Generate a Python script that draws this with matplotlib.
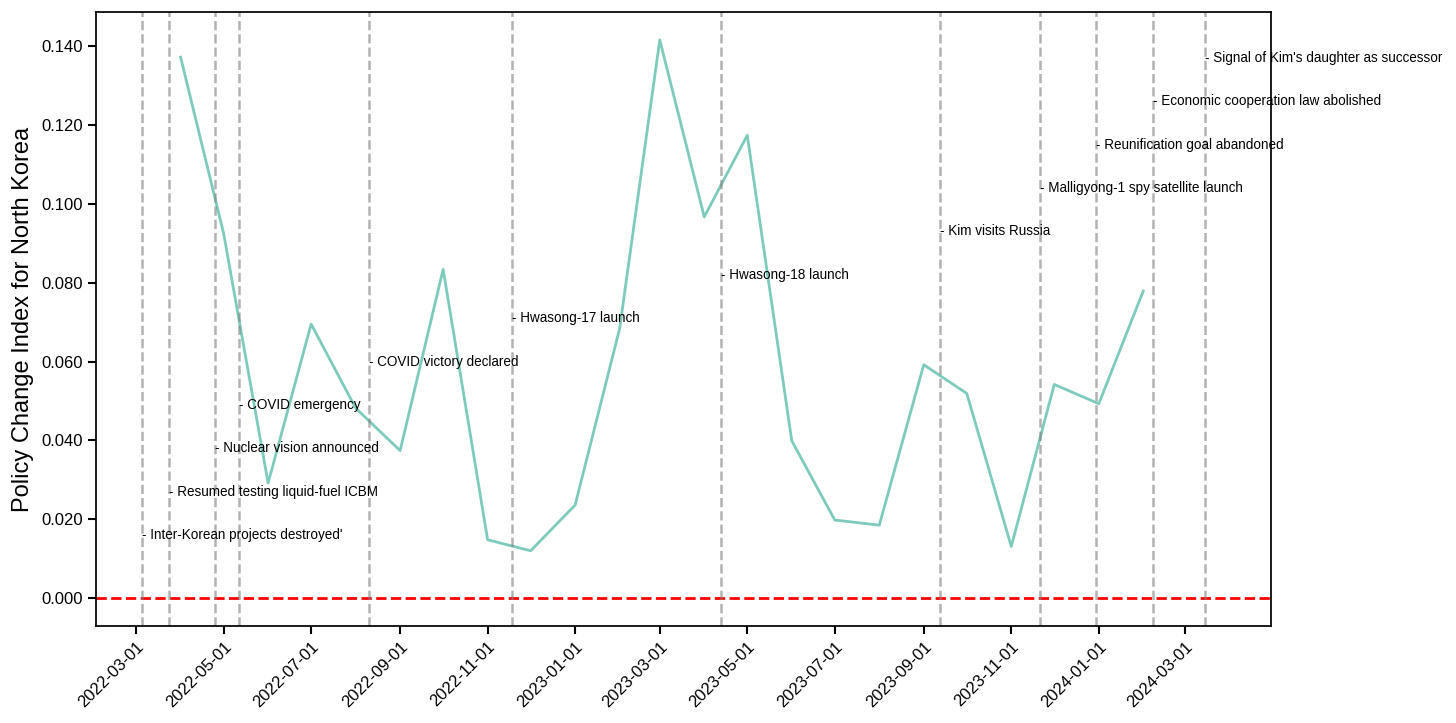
import matplotlib
matplotlib.use("Agg")
import matplotlib.pyplot as plt
import matplotlib.dates as mdates
import matplotlib.ticker as mticker
import pandas as pd

plt.rcParams['font.family'] = ['Liberation Sans', 'DejaVu Sans']

months = pd.date_range("2022-04-01", "2024-02-01", freq="MS")
index_values = [0.1372, 0.0925, 0.0292, 0.0695, 0.0482, 0.0374, 0.0834, 0.0148,
                0.0120, 0.0236, 0.0683, 0.1416, 0.0967, 0.1174, 0.0399, 0.0198,
                0.0185, 0.0592, 0.0519, 0.0131, 0.0542, 0.0493, 0.0779]

event_dates = pd.to_datetime([
    "2022-03-05", "2022-03-24", "2022-04-25", "2022-05-12", "2022-08-10",
    "2022-11-18", "2023-04-13", "2023-09-12", "2023-11-21", "2023-12-30",
    "2024-02-08", "2024-03-15"])
event_labels = [
    "Inter-Korean projects destroyed'",
    "Resumed testing liquid-fuel ICBM",
    "Nuclear vision announced",
    "COVID emergency",
    "COVID victory declared",
    "Hwasong-17 launch",
    "Hwasong-18 launch",
    "Kim visits Russia",
    "Malligyong-1 spy satellite launch",
    "Reunification goal abandoned",
    "Economic cooperation law abolished",
    "Signal of Kim's daughter as successor",
]
label_y = [0.015 + 0.011 * i for i in range(len(event_labels))]

fig = plt.figure(figsize=(14.56, 7.23), dpi=100)
ax = fig.add_axes([0.0659, 0.1346, 0.8070, 0.8484])

ax.plot(months, index_values, color="#7dcbbc", lw=2)
ax.axhline(0, color="red", ls="--", lw=2)
for d, lab, yy in zip(event_dates, event_labels, label_y):
    ax.axvline(d, color="gray", ls="--", lw=1.8, alpha=0.6)
    ax.text(d, yy, "- " + lab, fontsize=9.75, va="baseline", ha="left")

ax.set_xlim(pd.Timestamp("2022-02-01"), pd.Timestamp("2024-04-30"))
ax.set_ylim(-0.0070, 0.1486)
ax.xaxis.set_major_locator(mdates.MonthLocator(bymonth=[1, 3, 5, 7, 9, 11]))
ax.xaxis.set_major_formatter(mdates.DateFormatter("%Y-%m-%d"))
ax.yaxis.set_major_locator(mticker.MultipleLocator(0.02))
ax.yaxis.set_major_formatter(mticker.FormatStrFormatter("%.3f"))
plt.setp(ax.get_xticklabels(), rotation=45, ha="right", rotation_mode="anchor")
ax.tick_params(axis="both", labelsize=12, length=6, width=1.5)
for s in ax.spines.values():
    s.set_linewidth(1.25)
ax.set_ylabel("Policy Change Index for North Korea", fontsize=17, labelpad=5)

fig.savefig("out.png", dpi=100)
